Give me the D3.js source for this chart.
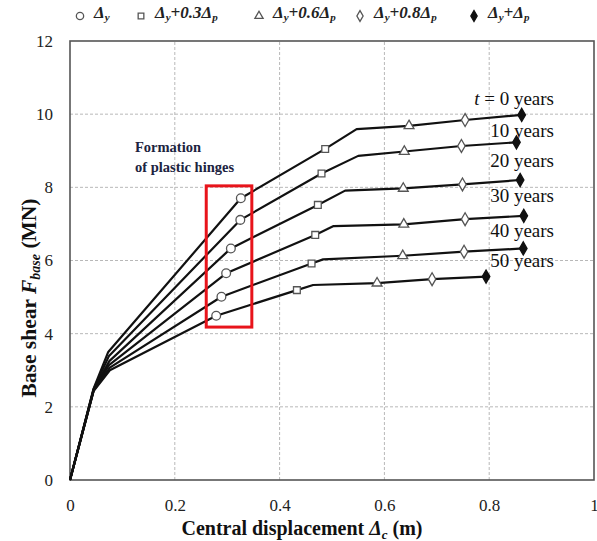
<!DOCTYPE html>
<html>
<head>
<meta charset="utf-8">
<script src="https://cdn.jsdelivr.net/npm/d3@7/dist/d3.min.js"></script>
<style>
  html, body { margin: 0; padding: 0; background: #fff; }
  svg { display: block; }
  text { font-family: "Liberation Serif", "Times New Roman", serif; }
</style>
</head>
<body>
<svg id="chart" width="597" height="541"></svg>
<script>
// Pushover curves of base shear vs central displacement, by service age
const ages = ["t = 0 years", "10 years", "20 years", "30 years", "40 years", "50 years"];

// Displacement (m) at each curve vertex, per age
const dispT0  = [0, 0.045, 0.073, 0.326, 0.487, 0.547, 0.647, 0.754, 0.862];
const dispT10 = [0, 0.045, 0.074, 0.325, 0.480, 0.550, 0.638, 0.747, 0.852];
const dispT20 = [0, 0.045, 0.075, 0.307, 0.473, 0.525, 0.636, 0.749, 0.859];
const dispT30 = [0, 0.045, 0.075, 0.298, 0.468, 0.503, 0.637, 0.754, 0.866];
const dispT40 = [0, 0.045, 0.076, 0.289, 0.461, 0.483, 0.635, 0.752, 0.865];
const dispT50 = [0, 0.045, 0.076, 0.279, 0.433, 0.464, 0.586, 0.691, 0.794];

// Base shear (MN) at each curve vertex, per age
const shearT0  = [0, 2.50, 3.50, 7.70, 9.05, 9.59, 9.68, 9.84, 9.98];
const shearT10 = [0, 2.48, 3.38, 7.11, 8.38, 8.86, 8.98, 9.13, 9.23];
const shearT20 = [0, 2.46, 3.25, 6.33, 7.52, 7.91, 7.97, 8.08, 8.20];
const shearT30 = [0, 2.45, 3.15, 5.65, 6.70, 6.94, 6.99, 7.13, 7.22];
const shearT40 = [0, 2.44, 3.07, 5.01, 5.92, 6.03, 6.13, 6.24, 6.33];
const shearT50 = [0, 2.43, 3.00, 4.49, 5.19, 5.33, 5.38, 5.49, 5.56];

// Which vertex carries which performance-level marker (null = plain vertex)
const vertexLevel = [null, null, null, "dy", "p03", null, "p06", "p08", "p10"];

// Legend entries as [text, subscript] pairs
const levelKeys = ["dy", "p03", "p06", "p08", "p10"];
const levelLabels = [
  [["Δ", "y"]],
  [["Δ", "y"], ["+0.3Δ", "p"]],
  [["Δ", "y"], ["+0.6Δ", "p"]],
  [["Δ", "y"], ["+0.8Δ", "p"]],
  [["Δ", "y"], ["+Δ", "p"]]
];

const xTicks = [0, 0.2, 0.4, 0.6, 0.8, 1];
const yTicks = [0, 2, 4, 6, 8, 10, 12];

// Region of the curves where plastic hinges form
const hingeBoxX = [0.26, 0.347];
const hingeBoxY = [4.18, 8.04];

const dispSeries = [dispT0, dispT10, dispT20, dispT30, dispT40, dispT50];
const shearSeries = [shearT0, shearT10, shearT20, shearT30, shearT40, shearT50];
const curves = dispSeries.map((d, i) => d.map((x, j) => ({ x, y: shearSeries[i][j], level: vertexLevel[j] })));

const svg = d3.select("#chart");
const m = { left: 70, right: 3, top: 41, bottom: 61 };
const W = 597, H = 541;
const x = d3.scaleLinear().domain([0, 1]).range([m.left, W - m.right]);
const y = d3.scaleLinear().domain([0, 12]).range([H - m.bottom, m.top]);

// Dashed gridlines
const grid = svg.append("g");
grid.selectAll("line.h").data(yTicks.filter(t => t > 0 && t < 12)).join("line")
  .attr("x1", x(0)).attr("x2", x(1)).attr("y1", d => y(d)).attr("y2", d => y(d))
  .attr("stroke", "#b8b8b8").attr("stroke-width", 1).attr("stroke-dasharray", "3,2");
grid.selectAll("line.v").data(xTicks.filter(t => t > 0 && t < 1)).join("line")
  .attr("y1", y(0)).attr("y2", y(12)).attr("x1", d => x(d)).attr("x2", d => x(d))
  .attr("stroke", "#b8b8b8").attr("stroke-width", 1).attr("stroke-dasharray", "3,2");

// Axes (labels only; frame drawn separately)
const xAxis = svg.append("g").attr("transform", `translate(0,${y(0)})`)
  .call(d3.axisBottom(x).tickValues(xTicks).tickSize(0).tickPadding(19).tickFormat(d3.format("~g")));
const yAxis = svg.append("g").attr("transform", `translate(${x(0)},0)`)
  .call(d3.axisLeft(y).tickValues(yTicks).tickSize(0).tickPadding(17).tickFormat(d3.format("~g")));
[xAxis, yAxis].forEach(a => {
  a.select(".domain").remove();
  a.selectAll("text").attr("font-family", "Liberation Serif, serif").attr("font-size", 17).attr("fill", "#222");
});

// Plot frame
svg.append("rect").attr("x", x(0)).attr("y", y(12)).attr("width", x(1) - x(0)).attr("height", y(0) - y(12))
  .attr("fill", "none").attr("stroke", "#555").attr("stroke-width", 1.6);

// Curves
const line = d3.line().x(d => x(d.x)).y(d => y(d.y));
svg.append("g").selectAll("path").data(curves).join("path")
  .attr("d", line).attr("fill", "none").attr("stroke", "#111").attr("stroke-width", 2.2)
  .attr("stroke-linejoin", "round");

// Marker shapes per performance level
const symbolFor = {
  dy:  { type: d3.symbolCircle,   size: 60, fill: "#fff" },
  p03: { type: d3.symbolSquare,   size: 46, fill: "#fff" },
  p06: { type: d3.symbolTriangle, size: 42, fill: "#fff" },
  p08: { type: d3.symbolDiamond,  size: 48, fill: "#fff" },
  p10: { type: d3.symbolDiamond,  size: 50, fill: "#111" }
};
function drawMarker(sel, key, scale = 1) {
  const s = symbolFor[key];
  sel.attr("d", d3.symbol().type(s.type).size(s.size * scale)())
    .attr("fill", s.fill).attr("stroke", key === "p10" ? "#111" : "#555").attr("stroke-width", 1.3);
}
const markerGroup = svg.append("g");
curves.forEach(c => {
  c.filter(p => p.level).forEach(p => {
    markerGroup.append("path").attr("transform", `translate(${x(p.x)},${y(p.y)})`).call(drawMarker, p.level);
  });
});

// Age labels beside the curve ends
const ageLabelY = [98, 130, 160, 195, 230, 260];
const ageG = svg.append("g");
ages.forEach((a, i) => {
  const t = ageG.append("text").attr("x", 554).attr("y", ageLabelY[i]).attr("dy", "0.35em")
    .attr("text-anchor", "end").attr("font-size", 19).attr("fill", "#111");
  if (a.startsWith("t ")) {
    t.append("tspan").attr("font-style", "italic").text("t");
    t.append("tspan").text(a.slice(1));
  } else {
    t.text(a);
  }
});

// Hinge formation box and note
svg.append("rect")
  .attr("x", x(hingeBoxX[0])).attr("y", y(hingeBoxY[1]))
  .attr("width", x(hingeBoxX[1]) - x(hingeBoxX[0])).attr("height", y(hingeBoxY[0]) - y(hingeBoxY[1]))
  .attr("fill", "none").attr("stroke", "#e8141b").attr("stroke-width", 3);
const note = svg.append("text").attr("font-size", 14.5).attr("font-weight", "bold").attr("fill", "#1c2340");
note.append("tspan").attr("x", 135).attr("y", 152).text("Formation");
note.append("tspan").attr("x", 135).attr("y", 172).text("of plastic hinges");

// Legend across the top
const legendX = [80, 141, 259, 360, 474];
const legend = svg.append("g");
levelKeys.forEach((k, i) => {
  legend.append("path").attr("transform", `translate(${legendX[i]},16)`).call(drawMarker, k, 0.7);
  const t = legend.append("text").attr("x", legendX[i] + 14).attr("y", 21)
    .attr("font-size", 17).attr("font-style", "italic").attr("font-weight", "bold").attr("fill", "#222");
  levelLabels[i].forEach(([main, sub]) => {
    t.append("tspan").attr("dy", -3).text(main);
    t.append("tspan").attr("font-size", 11).attr("dy", 3).text(sub);
  });
});

// Axis titles
const xt = svg.append("text").attr("x", 302).attr("y", 535).attr("text-anchor", "middle")
  .attr("font-size", 20).attr("font-weight", "bold").attr("fill", "#111");
xt.append("tspan").text("Central displacement ");
xt.append("tspan").attr("font-style", "italic").text("Δ");
xt.append("tspan").attr("font-style", "italic").attr("font-size", 13).attr("dy", 4).text("c");
xt.append("tspan").attr("dy", -4).text(" (m)");

const yt = svg.append("text").attr("transform", `translate(36,298) rotate(-90)`).attr("text-anchor", "middle")
  .attr("font-size", 21.5).attr("font-weight", "bold").attr("fill", "#111");
yt.append("tspan").text("Base shear ");
yt.append("tspan").attr("font-style", "italic").text("F");
yt.append("tspan").attr("font-style", "italic").attr("font-size", 14).attr("dy", 4).text("base");
yt.append("tspan").attr("dy", -4).text(" (MN)");
</script>
</body>
</html>
